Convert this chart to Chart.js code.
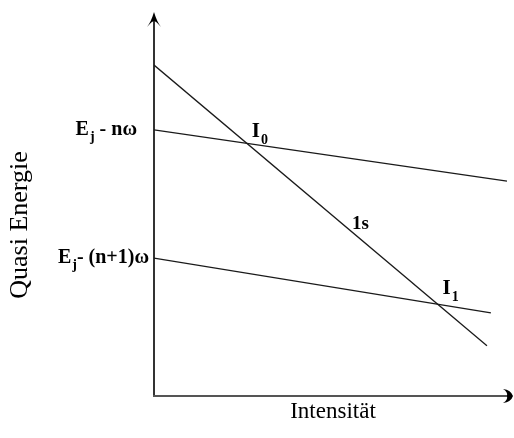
<!DOCTYPE html>
<html>
<head>
<meta charset="utf-8">
<script src="https://cdn.jsdelivr.net/npm/chart.js@4/dist/chart.umd.min.js"></script>
<style>
  html, body { margin: 0; padding: 0; background: #fff; }
  #wrap { width: 514px; height: 438px; }
</style>
</head>
<body>
<div id="wrap"><canvas id="qeChart"></canvas></div>
<script>
// Quasi-Energie über Intensität: zwei Floquet-Niveaus und der 1s-Zustand
var seriesNames = ['Ej - nω', 'Ej - (n+1)ω', '1s'];
var upperX = [0, 9.86], upperY = [6.95, 5.61];
var lowerX = [0, 9.41], lowerY = [3.60, 2.17];
var sX = [0, 9.30], sY = [8.64, 1.31];

// Beschriftung der y-Achse (Startwerte der Floquet-Niveaus)
var yTickValues = [6.95, 3.60];
var yTickLabels = [['E', 'j', ' - nω'], ['E', 'j', '- (n+1)ω']];

var serif = '"Liberation Serif", "DejaVu Serif", serif';

function pts(xs, ys) {
  var out = [];
  for (var i = 0; i < xs.length; ++i) out.push({ x: xs[i], y: ys[i] });
  return out;
}

// Schnittpunkt zweier Geraden (je zwei Punkte)
function intersect(ax, ay, bx, by) {
  var m1 = (ay[1] - ay[0]) / (ax[1] - ax[0]);
  var m2 = (by[1] - by[0]) / (bx[1] - bx[0]);
  var x = (by[0] - ay[0]) / (m1 - m2);
  return { x: x, y: ay[0] + m1 * x };
}

// Text mit tiefgestelltem Index: [haupt, index, rest]
function subText(ctx, parts, x, y, size, align) {
  var big = 'bold ' + size + 'px ' + serif;
  var small = 'bold ' + Math.round(size * 0.68) + 'px ' + serif;
  ctx.font = big; var w0 = ctx.measureText(parts[0]).width;
  var w2 = ctx.measureText(parts[2]).width;
  ctx.font = small; var w1 = ctx.measureText(parts[1]).width;
  var start = align === 'right' ? x - (w0 + w1 + w2) : x;
  ctx.textAlign = 'left';
  ctx.textBaseline = 'alphabetic';
  ctx.font = big; ctx.fillText(parts[0], start, y);
  ctx.font = small; ctx.fillText(parts[1], start + w0 + 1, y + size * 0.3);
  ctx.font = big; ctx.fillText(parts[2], start + w0 + w1 + 1, y);
}

var axesPlugin = {
  id: 'axesArrows',
  beforeDatasetsDraw: function(chart) {
    var ctx = chart.ctx, a = chart.chartArea;
    ctx.save();
    // y-Achse
    ctx.strokeStyle = '#333'; ctx.lineWidth = 2;
    ctx.beginPath(); ctx.moveTo(a.left, a.bottom + 1); ctx.lineTo(a.left, a.top + 6); ctx.stroke();
    // x-Achse
    ctx.strokeStyle = '#555';
    ctx.beginPath(); ctx.moveTo(a.left - 1, a.bottom); ctx.lineTo(a.right - 4, a.bottom); ctx.stroke();
    ctx.fillStyle = '#000';
    // Pfeilspitze oben
    ctx.beginPath();
    ctx.moveTo(a.left, a.top - 1);
    ctx.quadraticCurveTo(a.left - 3, a.top + 9, a.left - 7, a.top + 14);
    ctx.quadraticCurveTo(a.left - 2, a.top + 8, a.left, a.top + 8);
    ctx.quadraticCurveTo(a.left + 2, a.top + 8, a.left + 7, a.top + 14);
    ctx.quadraticCurveTo(a.left + 3, a.top + 9, a.left, a.top - 1);
    ctx.fill();
    // Pfeilspitze rechts
    ctx.beginPath();
    ctx.moveTo(a.right + 1, a.bottom);
    ctx.quadraticCurveTo(a.right - 1, a.bottom - 6, a.right - 9, a.bottom - 7);
    ctx.quadraticCurveTo(a.right - 4, a.bottom - 4, a.right - 5, a.bottom);
    ctx.quadraticCurveTo(a.right - 4, a.bottom + 4, a.right - 9, a.bottom + 7);
    ctx.quadraticCurveTo(a.right - 1, a.bottom + 6, a.right + 1, a.bottom);
    ctx.fill();
    ctx.restore();
  },
  afterDraw: function(chart) {
    var ctx = chart.ctx, a = chart.chartArea;
    var xs = chart.scales.x, ys = chart.scales.y;
    ctx.save();
    ctx.fillStyle = '#000';

    // y-Beschriftungen
    for (var i = 0; i < yTickValues.length; ++i) {
      subText(ctx, yTickLabels[i], a.left - 18 + (i === 1 ? 12 : 0), ys.getPixelForValue(yTickValues[i]) + 5, 20, 'right');
    }

    // Achsentitel
    ctx.font = '23px ' + serif;
    ctx.textAlign = 'center'; ctx.textBaseline = 'middle';
    ctx.fillText('Intensität', 333, 412);
    ctx.save();
    ctx.translate(20, 225);
    ctx.rotate(-Math.PI / 2);
    ctx.font = '26px ' + serif;
    ctx.fillText('Quasi Energie', 0, 0);
    ctx.restore();

    // Schnittpunkte I0 und I1
    var p0 = intersect(upperX, upperY, sX, sY);
    var p1 = intersect(lowerX, lowerY, sX, sY);
    subText(ctx, ['I', '0', ''], xs.getPixelForValue(p0.x) + 5, ys.getPixelForValue(p0.y) - 6, 21, 'left');
    subText(ctx, ['I', '1', ''], xs.getPixelForValue(p1.x) + 5, ys.getPixelForValue(p1.y) - 10, 21, 'left');

    // Name der steilen Geraden
    ctx.font = 'bold 19px ' + serif;
    ctx.textAlign = 'left'; ctx.textBaseline = 'alphabetic';
    ctx.fillText(seriesNames[2], 352, 229);
    ctx.restore();
  }
};

var lineStyle = { showLine: true, pointRadius: 0, borderColor: '#1a1a1a', borderWidth: 1.3, fill: false };

new Chart(document.getElementById('qeChart'), {
  type: 'scatter',
  data: {
    datasets: [
      Object.assign({ label: seriesNames[0], data: pts(upperX, upperY) }, lineStyle),
      Object.assign({ label: seriesNames[1], data: pts(lowerX, lowerY) }, lineStyle),
      Object.assign({ label: seriesNames[2], data: pts(sX, sY) }, lineStyle)
    ]
  },
  options: {
    responsive: true,
    maintainAspectRatio: false,
    animation: false,
    layout: { padding: { left: 154, top: 13, right: 2, bottom: 42 } },
    plugins: { legend: { display: false }, tooltip: { enabled: false } },
    scales: {
      x: { type: 'linear', min: 0, max: 10, display: false },
      y: { type: 'linear', min: 0, max: 10, display: false }
    }
  },
  plugins: [axesPlugin]
});
</script>
</body>
</html>
